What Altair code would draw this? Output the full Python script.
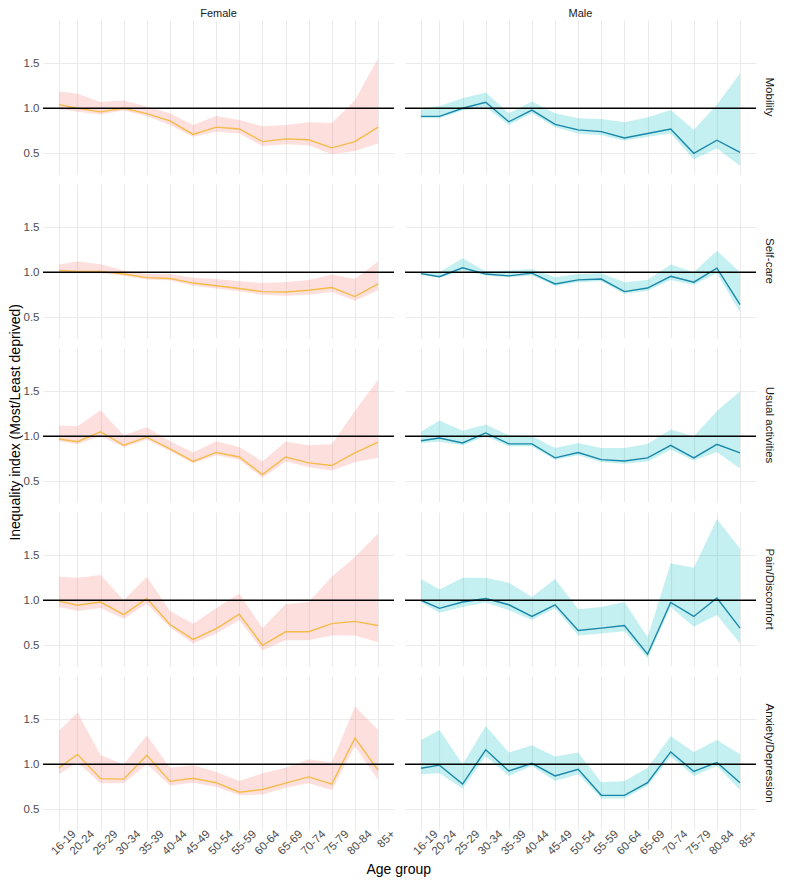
import altair as alt
import pandas as pd

# ---- categories ----
ages = [16, 20, 25, 30, 35, 40, 45, 50, 55, 60, 65, 70, 75, 80, 85]
age_labels = ["16-19", "20-24", "25-29", "30-34", "35-39", "40-44", "45-49",
              "50-54", "55-59", "60-64", "65-69", "70-74", "75-79", "80-84", "85+"]
dims = ["Mobility", "Self-care", "Usual activities", "Pain/Discomfort", "Anxiety/Depression"]
sexes = ["Female", "Male"]

y_major = [0.5, 1.0, 1.5]
y_minor = [0.75, 1.25, 1.75]

# ---- Female ----
f_mob_est = [1.04, 1.00, 0.96, 1.00, 0.94, 0.86, 0.71, 0.79, 0.77, 0.63, 0.66, 0.65, 0.56, 0.63, 0.79]
f_mob_lo = [0.99, 0.96, 0.93, 0.975, 0.91, 0.815, 0.685, 0.74, 0.72, 0.58, 0.60, 0.59, 0.49, 0.525, 0.61]
f_mob_hi = [1.185, 1.16, 1.07, 1.085, 1.02, 0.945, 0.815, 0.915, 0.87, 0.80, 0.815, 0.845, 0.835, 1.09, 1.555]

f_self_est = [1.02, 1.01, 1.01, 0.98, 0.94, 0.93, 0.88, 0.85, 0.82, 0.785, 0.78, 0.80, 0.83, 0.73, 0.87]
f_self_lo = [0.99, 0.99, 0.99, 0.96, 0.92, 0.91, 0.85, 0.82, 0.79, 0.75, 0.74, 0.75, 0.78, 0.685, 0.80]
f_self_hi = [1.085, 1.12, 1.09, 1.02, 0.98, 0.98, 0.94, 0.925, 0.90, 0.88, 0.89, 0.915, 0.975, 0.925, 1.12]

f_usual_est = [0.97, 0.94, 1.05, 0.90, 0.99, 0.86, 0.72, 0.82, 0.77, 0.575, 0.77, 0.705, 0.675, 0.815, 0.935]
f_usual_lo = [0.945, 0.91, 1.00, 0.88, 0.96, 0.835, 0.70, 0.79, 0.74, 0.54, 0.72, 0.66, 0.62, 0.715, 0.76]
f_usual_hi = [1.12, 1.11, 1.29, 1.01, 1.10, 0.945, 0.82, 0.945, 0.88, 0.72, 0.94, 0.90, 0.91, 1.28, 1.63]

f_pain_est = [0.99, 0.945, 0.98, 0.84, 1.02, 0.73, 0.565, 0.685, 0.845, 0.50, 0.65, 0.65, 0.74, 0.765, 0.72]
f_pain_lo = [0.925, 0.88, 0.915, 0.795, 0.96, 0.70, 0.52, 0.63, 0.78, 0.445, 0.555, 0.555, 0.61, 0.61, 0.535]
f_pain_hi = [1.26, 1.25, 1.28, 1.00, 1.26, 0.88, 0.74, 0.91, 1.075, 0.69, 0.955, 0.98, 1.26, 1.48, 1.74]

f_anx_est = [0.96, 1.11, 0.84, 0.835, 1.10, 0.81, 0.845, 0.795, 0.69, 0.72, 0.79, 0.86, 0.78, 1.29, 0.935]
f_anx_lo = [0.89, 1.02, 0.79, 0.79, 1.00, 0.765, 0.795, 0.75, 0.655, 0.665, 0.74, 0.79, 0.715, 1.20, 0.825]
f_anx_hi = [1.37, 1.575, 1.10, 1.00, 1.32, 0.96, 0.99, 0.915, 0.815, 0.90, 0.96, 1.055, 1.02, 1.64, 1.38]

# ---- Male ----
m_mob_est = [0.91, 0.91, 1.00, 1.067, 0.85, 0.98, 0.82, 0.76, 0.74, 0.67, 0.72, 0.77, 0.50, 0.645, 0.51]
m_mob_lo = [0.89, 0.89, 0.975, 1.01, 0.815, 0.945, 0.79, 0.72, 0.70, 0.64, 0.685, 0.72, 0.43, 0.555, 0.36]
m_mob_hi = [1.00, 1.026, 1.11, 1.174, 0.945, 1.074, 0.945, 0.89, 0.88, 0.845, 0.90, 0.98, 0.76, 1.04, 1.39]

m_self_est = [0.985, 0.95, 1.05, 0.98, 0.96, 0.99, 0.87, 0.915, 0.925, 0.785, 0.825, 0.955, 0.89, 1.045, 0.64]
m_self_lo = [0.97, 0.94, 1.02, 0.965, 0.945, 0.965, 0.85, 0.89, 0.90, 0.76, 0.795, 0.915, 0.86, 0.99, 0.555]
m_self_hi = [1.00, 1.00, 1.155, 1.01, 1.02, 1.037, 0.945, 0.98, 0.99, 0.89, 0.915, 1.085, 1.00, 1.24, 1.00]

m_usual_est = [0.95, 0.98, 0.925, 1.037, 0.915, 0.915, 0.76, 0.82, 0.74, 0.725, 0.76, 0.90, 0.76, 0.91, 0.815]
m_usual_lo = [0.925, 0.94, 0.90, 1.00, 0.89, 0.89, 0.74, 0.79, 0.71, 0.695, 0.72, 0.85, 0.73, 0.825, 0.64]
m_usual_hi = [1.05, 1.175, 1.06, 1.13, 1.01, 1.00, 0.87, 0.925, 0.87, 0.87, 0.915, 1.075, 1.00, 1.28, 1.50]

m_pain_est = [1.00, 0.91, 0.98, 1.02, 0.95, 0.82, 0.95, 0.665, 0.69, 0.72, 0.40, 0.975, 0.82, 1.025, 0.69]
m_pain_lo = [0.975, 0.86, 0.925, 0.975, 0.89, 0.78, 0.91, 0.61, 0.63, 0.655, 0.36, 0.925, 0.705, 0.835, 0.52]
m_pain_hi = [1.235, 1.12, 1.25, 1.25, 1.195, 1.037, 1.235, 0.90, 0.925, 0.98, 0.59, 1.41, 1.36, 1.90, 1.575]

m_anx_est = [0.955, 0.99, 0.78, 1.16, 0.925, 1.01, 0.87, 0.945, 0.655, 0.655, 0.795, 1.137, 0.92, 1.02, 0.795]
m_anx_lo = [0.89, 0.90, 0.73, 1.09, 0.87, 0.98, 0.815, 0.89, 0.62, 0.62, 0.76, 1.085, 0.87, 0.98, 0.715]
m_anx_hi = [1.27, 1.38, 1.00, 1.425, 1.13, 1.21, 1.085, 1.13, 0.80, 0.815, 0.96, 1.31, 1.137, 1.27, 1.11]

series = {
    ("Female", "Mobility"): (f_mob_est, f_mob_lo, f_mob_hi),
    ("Female", "Self-care"): (f_self_est, f_self_lo, f_self_hi),
    ("Female", "Usual activities"): (f_usual_est, f_usual_lo, f_usual_hi),
    ("Female", "Pain/Discomfort"): (f_pain_est, f_pain_lo, f_pain_hi),
    ("Female", "Anxiety/Depression"): (f_anx_est, f_anx_lo, f_anx_hi),
    ("Male", "Mobility"): (m_mob_est, m_mob_lo, m_mob_hi),
    ("Male", "Self-care"): (m_self_est, m_self_lo, m_self_hi),
    ("Male", "Usual activities"): (m_usual_est, m_usual_lo, m_usual_hi),
    ("Male", "Pain/Discomfort"): (m_pain_est, m_pain_lo, m_pain_hi),
    ("Male", "Anxiety/Depression"): (m_anx_est, m_anx_lo, m_anx_hi),
}

rows = []
for (sex, dim), (est, lo, hi) in series.items():
    for a, e, l, h in zip(ages, est, lo, hi):
        rows.append({"sex": sex, "dim": dim, "age": a, "est": e, "lo": l, "hi": h})
df = pd.DataFrame(rows)

# label expressions built from the tick label lists
x_label_expr = "''"
for a, lab in reversed(list(zip(ages, age_labels))):
    x_label_expr = f"datum.value == {a} ? '{lab}' : ({x_label_expr})"
major_test = " || ".join(f"abs(datum.value - {v}) < 0.001" for v in y_major)
y_label_expr = f"({major_test}) ? format(datum.value, '.1f') : ''"

FONT = "Liberation Sans"
YTITLE = "Inequality index (Most/Least deprived)"
XTITLE = "Age group"
GRID = "#EBEBEB"

x_scale = alt.Scale(domain=[12.55, 88.45], nice=False, zero=False)
x_axis = alt.Axis(values=ages, labelExpr=x_label_expr, labelAngle=-45,
                  labelAlign="right", labelBaseline="middle", labelOffset=15,
                  labelPadding=1, labelOverlap=False, labelBound=False, labelFlush=False,
                  ticks=False, domain=False,
                  grid=True, gridColor=GRID, gridWidth=1.1, labelFont=FONT,
                  labelFontSize=11.5, labelColor="#4D4D4D")
y_scale = alt.Scale(domain=[0.27, 1.98], nice=False, zero=False)
y_axis = alt.Axis(values=sorted(y_major + y_minor), labelExpr=y_label_expr,
                  labelOverlap=False, ticks=False, domain=False, grid=True, gridColor=GRID,
                  gridWidth={"condition": {"test": major_test, "value": 1.1}, "value": 0.6},
                  labelFont=FONT, labelFontSize=11.5, labelColor="#4D4D4D",
                  labelPadding=2)

band = alt.Chart().mark_area(opacity=0.23).encode(
    x=alt.X("age:Q", scale=x_scale, axis=x_axis, title=None),
    y=alt.Y("lo:Q", scale=y_scale, axis=y_axis, title=None),
    y2="hi:Q",
    fill=alt.Fill("sex:N", scale=alt.Scale(domain=sexes, range=["#F8766D", "#00BFC4"]), legend=None),
)
hline = alt.Chart().mark_rule(color="black", strokeWidth=1.3).encode(
    y=alt.YDatum(1, title=None),
).transform_filter(alt.datum.age == ages[0])
line = alt.Chart().mark_line(strokeWidth=1.4).encode(
    x=alt.X("age:Q", scale=x_scale, axis=x_axis, title=None),
    y=alt.Y("est:Q", scale=y_scale, axis=y_axis, title=None),
    stroke=alt.Stroke("sex:N", scale=alt.Scale(domain=sexes, range=["#F5BC4A", "#1A87A8"]), legend=None),
)

layered = alt.layer(band, line, hline, data=df).properties(width=351, height=154)

faceted = layered.facet(
    row=alt.Row("dim:N", sort=dims,
                header=alt.Header(title=None, labelOrient="right", labelAngle=90,
                                  labelFont=FONT, labelFontSize=11.5, labelColor="#1A1A1A",
                                  labelPadding=5)),
    column=alt.Column("sex:N", sort=sexes,
                      header=alt.Header(title=None, labelOrient="top",
                                        labelFont=FONT, labelFontSize=11, labelColor="#1A1A1A",
                                        labelPadding=0)),
    spacing={"row": 8, "column": 7},
).properties(
    title=alt.TitleParams(text=XTITLE, orient="bottom", anchor="middle", font=FONT,
                          fontSize=14, fontWeight="normal", color="black", offset=6),
)

chart = alt.hconcat(faceted).properties(
    title=alt.TitleParams(text=YTITLE, orient="left", anchor="middle", font=FONT,
                          fontSize=14, fontWeight="normal", color="black", offset=0, dx=20),
    padding={"left": 1, "top": 0, "right": 1, "bottom": 0},
).configure_view(stroke="transparent").configure_axisX(labelOverlap=False)

chart.save("out.html", embed_options={"renderer": "svg", "actions": False})
